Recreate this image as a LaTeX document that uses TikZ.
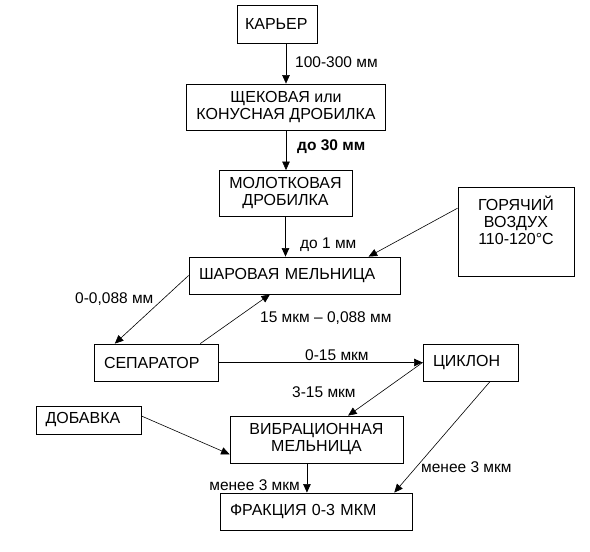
\documentclass[tikz,border=0pt]{standalone}
\usepackage{fontspec}
\setmainfont{Liberation Sans}
\usetikzlibrary{arrows.meta,calc}

\begin{document}
\begin{tikzpicture}[x=1pt,y=-1pt]
  \tikzset{procbox/.style={draw=black,line width=0.8pt,inner xsep=10pt,inner ysep=0pt,font=\fontsize{16}{17}\selectfont,align=center}}
  \tikzset{leftbox/.style={procbox,align=left}}
  \tikzset{flowedge/.style={draw=black,line width=0.6pt,-{Triangle[length=8.5pt,width=7.5pt]}}}
  \tikzset{edgelabel/.style={font=\fontsize{15.5}{17}\selectfont,inner sep=0pt,anchor=west}}
  \useasboundingbox (0,0) rectangle (590,552);
  \node[leftbox,inner xsep=8pt,text width=64pt,minimum height=38pt] (karier) at (277,24) {КАРЬЕР};
  \node[procbox,minimum width=194pt,minimum height=46pt] (shchek) at (286,107) {ЩЕКОВАЯ или\\КОНУСНАЯ ДРОБИЛКА};
  \node[procbox,minimum width=133pt,minimum height=46pt] (molot) at (285.5,193.5) {МОЛОТКОВАЯ\\ДРОБИЛКА};
  \node[leftbox,text width=191pt,minimum height=37pt] (shar) at (294.5,275.5) {ШАРОВАЯ МЕЛЬНИЦА};
  \node[procbox,minimum width=116pt,minimum height=89pt] (vozduh) at (516,231.5) {};
  \node[procbox,draw=none,anchor=north] (vozduhtext) at ($(vozduh.north)+(0,9)$) {ГОРЯЧИЙ\\ВОЗДУХ\\110-120°C};
  \node[leftbox,text width=104pt,minimum height=37pt] (sep) at (156,362.5) {СЕПАРАТОР};
  \node[leftbox,text width=75pt,minimum height=37pt] (ciklon) at (470.5,362.5) {ЦИКЛОН};
  \node[leftbox,inner xsep=9.5pt,text width=86pt,minimum height=28pt] (dobavka) at (88.5,420) {ДОБАВКА};
  \node[procbox,minimum width=173pt,minimum height=47pt] (vibr) at (316.5,439.5) {ВИБРАЦИОННАЯ\\МЕЛЬНИЦА};
  \node[leftbox,text width=172pt,minimum height=37pt] (frak) at (316,511.5) {ФРАКЦИЯ 0-3 МКМ};
  \coordinate (vibrout) at ($(vibr.south west)!0.445!(vibr.south east)$);
  \draw[flowedge] (karier.south -| shchek.north) -- (shchek.north);
  \node[edgelabel] at (295,62) {100-300 мм};
  \draw[flowedge] (shchek.south) -- (shchek.south |- molot.north);
  \node[edgelabel,font=\fontsize{15.5}{17}\selectfont\bfseries] at (297,147) {до 30 мм};
  \draw[flowedge] (molot.south) -- (molot.south |- shar.north);
  \node[edgelabel] at (300,245) {до 1 мм};
  \draw[flowedge] ($(vozduh.north west)!0.24!(vozduh.south west)$) -- ($(shar.north west)!0.85!(shar.north east)$);
  \draw[flowedge] (shar.west) -- ($(sep.north west)!0.17!(sep.north east)$);
  \node[edgelabel] at (75,299) {0-0,088 мм};
  \draw[flowedge] ($(sep.north west)!0.855!(sep.north east)$) -- ($(shar.south west)!0.384!(shar.south east)$);
  \node[edgelabel] at (260,318) {15 мкм – 0,088 мм};
  \draw[flowedge] (sep.east) -- (ciklon.west);
  \node[edgelabel] at (305,355) {0-15 мкм};
  \draw[flowedge] (ciklon.west) -- ($(vibr.north west)!0.682!(vibr.north east)$);
  \node[edgelabel] at (292,392) {3-15 мкм};
  \draw[flowedge] ($(dobavka.north east)!0.36!(dobavka.south east)$) -- ($(vibr.north west)!0.81!(vibr.south west)$);
  \draw[flowedge] (vibrout) -- (vibrout |- frak.north);
  \node[edgelabel,anchor=east] at (300,485) {менее 3 мкм};
  \draw[flowedge] ($(ciklon.south west)!0.705!(ciklon.south east)$) -- ($(frak.north west)!0.906!(frak.north east)$);
  \node[edgelabel] at (421,467) {менее 3 мкм};
\end{tikzpicture}
\end{document}
